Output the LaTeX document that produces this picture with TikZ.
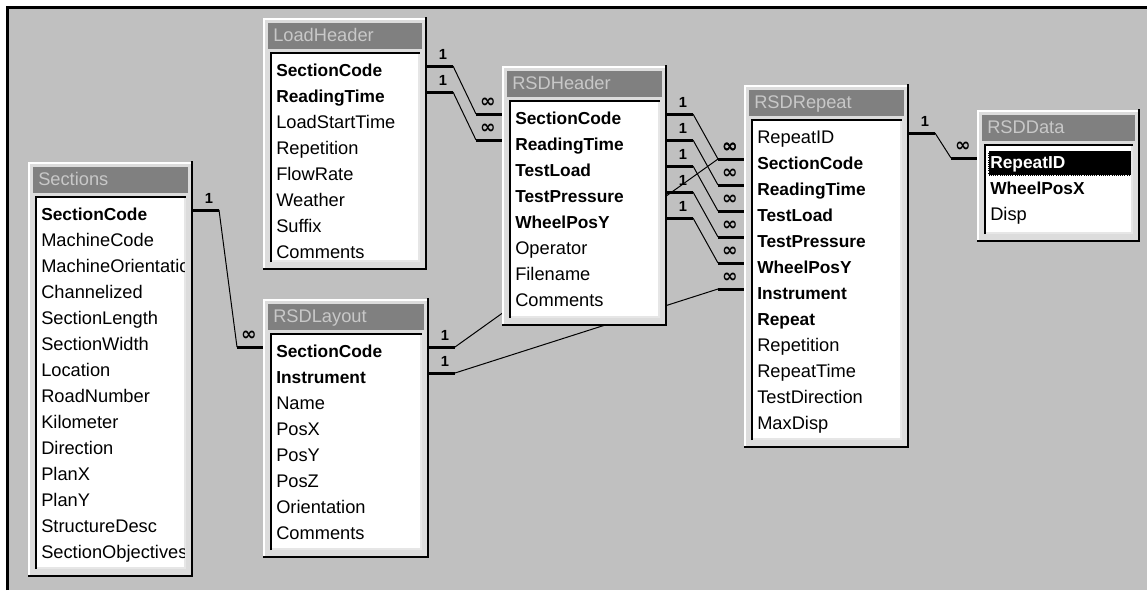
\documentclass[tikz,border=0pt]{standalone}
\usepackage{fontspec}
\setmainfont{Liberation Sans}
\newfontfamily\symfont{DejaVu Sans}
\usetikzlibrary{calc}
\pgfdeclarelayer{bgfill}
\pgfdeclarelayer{lines}
\pgfsetlayers{bgfill,lines,main}
\definecolor{bggray}{HTML}{C0C0C0}
\definecolor{framegray}{HTML}{DCDCDC}
\definecolor{titlegray}{HTML}{808080}
\definecolor{titletext}{HTML}{C8C8C8}
\definecolor{insetlight}{HTML}{E6E6E6}
\tikzset{
  rowbase/.style={inner sep=0pt, text height=10pt, text depth=2pt, text=black},
  rn/.style={rowbase, font=\fontsize{13.7}{16}\selectfont},
  rb/.style={rowbase, font=\fontsize{13}{16}\selectfont\bfseries},
  rs/.style={rb, text=white, fill=black, inner xsep=1.5pt, xshift=-1.5pt, text width=104pt, minimum height=18.75pt, draw=white, densely dotted},
  titlelabel/.style={inner sep=0pt, text height=10pt, text depth=2pt, text=titletext, font=\fontsize{13.7}{16}\selectfont},
  stub/.style={line width=2.25pt},
  connector/.style={line width=0.75pt},
  onelabel/.style={inner sep=0pt, font=\fontsize{11}{12}\selectfont\bfseries},
  manylabel/.style={inner sep=0pt, font=\symfont\fontsize{14}{14}\selectfont\bfseries},
}
% #1 name, #2 left, #3 top, #4 right, #5 bottom, #6 title, #7 rows
\newcommand\dbtable[7]{%
  \coordinate (#1-nw) at (#2,#3);
  \coordinate (#1-se) at (#4,#5);
  \fill[framegray] (#2,#3) rectangle (#4,#5);
  \draw[white, line width=1.5pt] (#2+1,#5-1) -- (#2+1,#3+1) -- (#4-1,#3+1);
  \draw[black, line width=1.5pt] (#4-1,#3-1) -- (#4-1,#5-1) -- (#2,#5-1);
  \fill[titlegray] (#2+5,#3+5) rectangle (#4-5,#3+31);
  \node[titlelabel, anchor=west] (#1-title) at (#2+10,#3+18) {#6};
  \fill[white] (#2+7,#3+34) rectangle (#4-7,#5-8);
  \draw[black, line width=1.5pt] (#2+8,#5-8) -- (#2+8,#3+35) -- (#4-7,#3+35);
  \draw[insetlight, line width=1.5pt] (#2+9,#5-9) -- (#4-8,#5-9) -- (#4-8,#3+36);
  \begin{scope}
    \clip (#2+9,#3+36) rectangle (#4-9,#5-10);
    \foreach \s/\t [count=\i] in {#7} {
      \node[\s, anchor=west] (#1-\i) at (#2+13,{#3+53+(\i-1)*26}) {\t};
    }
  \end{scope}
}
% #1 id, #2 from table, #3 from row, #4 to table, #5 to row
\newcommand\rel[5]{%
  \coordinate (#1-a) at ($(#2-se |- #2-#3.west)+(0,-5)$);
  \coordinate (#1-b) at ($(#4-nw |- #4-#5.west)+(0,-5)$);
  \coordinate (#1-a2) at ($(#1-a)+(26,0)$);
  \coordinate (#1-b2) at ($(#1-b)+(-26,0)$);
  \begin{pgfonlayer}{lines}
    \draw[connector] (#1-a2) -- (#1-b2);
  \end{pgfonlayer}
  \draw[stub] (#1-a) -- (#1-a2);
  \draw[stub] (#1-b2) -- (#1-b);
  \node[onelabel] (#1-one) at ($(#1-a)+(16,-12)$) {1};
  \node[manylabel] (#1-many) at ($(#1-b)+(-14,-11)$) {∞};
}
\begin{document}
\begin{tikzpicture}[x=0.75pt,y=-0.75pt]
\useasboundingbox (0,0) rectangle (1147,590);
\begin{pgfonlayer}{bgfill}
  \fill[white] (0,0) rectangle (1147,590);
  \fill[bggray] (8,8) rectangle (1147,590);
  \draw[black, line width=1.9pt] (7.5,590) -- (7.5,7.5) -- (1147,7.5);
\end{pgfonlayer}

\dbtable{sec}{28}{162}{193}{577}{Sections}{rb/SectionCode, rn/MachineCode, rn/MachineOrientation, rn/Channelized, rn/SectionLength, rn/SectionWidth, rn/Location, rn/RoadNumber, rn/Kilometer, rn/Direction, rn/PlanX, rn/PlanY, rn/StructureDesc, rn/SectionObjectives}
\dbtable{lh}{263}{18}{427}{270}{LoadHeader}{rb/SectionCode, rb/ReadingTime, rn/LoadStartTime, rn/Repetition, rn/FlowRate, rn/Weather, rn/Suffix, rn/Comments}
\dbtable{rh}{502}{66}{667}{326}{RSDHeader}{rb/SectionCode, rb/ReadingTime, rb/TestLoad, rb/TestPressure, rb/WheelPosY, rn/Operator, rn/Filename, rn/Comments}
\dbtable{lay}{263}{299}{429}{558}{RSDLayout}{rb/SectionCode, rb/Instrument, rn/Name, rn/PosX, rn/PosY, rn/PosZ, rn/Orientation, rn/Comments}
\dbtable{rep}{744}{85}{909}{448}{RSDRepeat}{rn/RepeatID, rb/SectionCode, rb/ReadingTime, rb/TestLoad, rb/TestPressure, rb/WheelPosY, rb/Instrument, rb/Repeat, rn/Repetition, rn/RepeatTime, rn/TestDirection, rn/MaxDisp}
\dbtable{dat}{977}{110}{1140}{242}{RSDData}{rs/RepeatID, rb/WheelPosX, rn/Disp}

\rel{r1}{sec}{1}{lay}{1}
\rel{r2}{lh}{1}{rh}{1}
\rel{r3}{lh}{2}{rh}{2}
\rel{r4}{rh}{1}{rep}{2}
\rel{r5}{rh}{2}{rep}{3}
\rel{r6}{rh}{3}{rep}{4}
\rel{r7}{rh}{4}{rep}{5}
\rel{r8}{rh}{5}{rep}{6}
\rel{r9}{lay}{1}{rep}{2}
\rel{r10}{lay}{2}{rep}{7}
\rel{r11}{rep}{1}{dat}{1}
\end{tikzpicture}
\end{document}
